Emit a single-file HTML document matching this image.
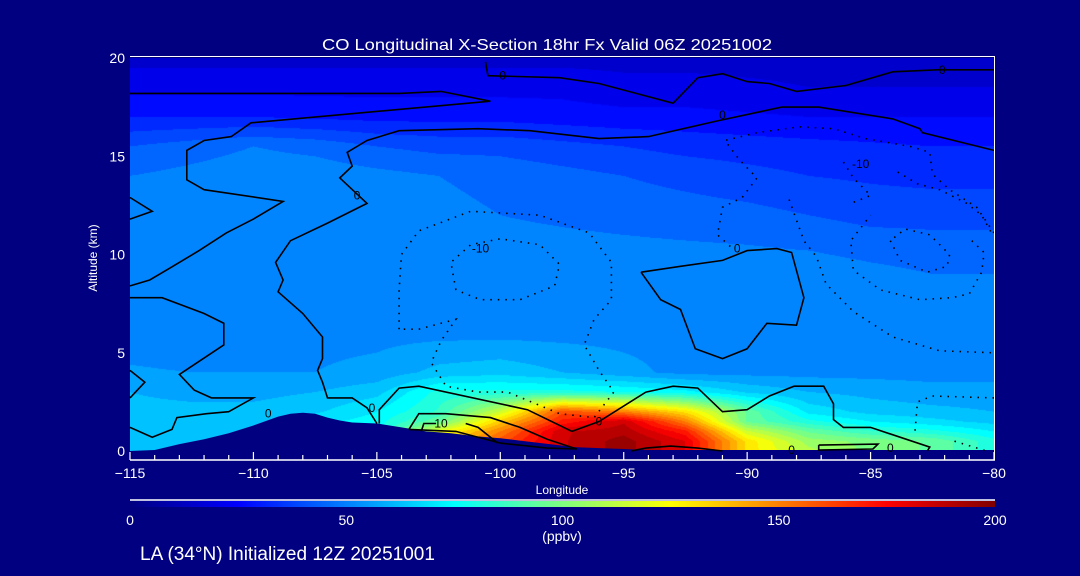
<!DOCTYPE html>
<html>
<head>
<meta charset="utf-8">
<style>
html,body{margin:0;padding:0;background:#000080;}
#wrap{position:relative;width:1080px;height:576px;overflow:hidden;background:#000080;font-family:"Liberation Sans",sans-serif;}
#field{position:absolute;left:130px;top:58px;}
#ov{position:absolute;left:0;top:0;}
text{font-family:"Liberation Sans",sans-serif;fill:#fff;}
</style>
</head>
<body>
<div id="wrap">
<canvas id="field" width="864" height="393"></canvas>
<svg id="ov" width="1080" height="576">
  <defs>
    <linearGradient id="jet" x1="0" x2="1" y1="0" y2="0">
      <stop offset="0" stop-color="#000080"/>
      <stop offset="0.125" stop-color="#0000ff"/>
      <stop offset="0.375" stop-color="#00ffff"/>
      <stop offset="0.625" stop-color="#ffff00"/>
      <stop offset="0.875" stop-color="#ff0000"/>
      <stop offset="1" stop-color="#800000"/>
    </linearGradient>
  </defs>
  <g id="terrain"></g>
  <g id="contours"></g>
  <g id="clabels"></g>
  <g id="axes"></g>
  <text x="322" y="50" font-size="16" textLength="450" lengthAdjust="spacingAndGlyphs">CO Longitudinal X-Section 18hr  Fx Valid 06Z 20251002</text>
  <text x="562" y="494" font-size="12" text-anchor="middle">Longitude</text>
  <text x="0" y="0" font-size="12" text-anchor="middle" transform="translate(97,258) rotate(-90)">Altitude (km)</text>
  <line x1="130" y1="500" x2="995" y2="500" stroke="#fff" stroke-width="1.5"/>
  <rect x="130" y="501" width="865" height="6" fill="url(#jet)"/>
  <g id="cbticks"></g>
  <text x="562" y="541" font-size="14" text-anchor="middle">(ppbv)</text>
  <text x="140" y="560" font-size="19">LA (34°N) Initialized 12Z 20251001</text>
</svg>
</div>
<script>
// ---- data ----
const lons = [-115,-112.5,-110,-107.5,-105,-102.5,-100,-97.5,-95,-92.5,-90,-87.5,-85,-82.5,-80];
const alts = [0,0.5,1,1.5,2,3,4,6,9,12,14,15.5,17,18.5,20];
const co0   = [60,62,65,70,75,130,160,185,195,180,130,110,100,95,80];
const co05  = [60,62,65,70,75,130,160,185,195,180,130,105,100,95,80];
const co1   = [62,62,65,70,75,120,150,185,190,170,115,95,85,80,72];
const co15  = [62,62,65,70,75,95,135,170,185,150,95,80,72,68,64];
const co2   = [62,62,62,65,72,85,115,160,150,130,95,70,64,62,60];
const co3   = [60,58,58,60,64,80,80,80,78,74,65,60,58,56,56];
const co4   = [55,54,54,54,56,62,64,60,56,52,52,52,52,52,52];
const co6   = [50,48,52,52,52,52,52,52,52,52,52,53,52,52,52];
const co9   = [50,52,52,52,52,52,52,52,52,52,52,52,50,48,48];
const co12  = [50,52,52,52,52,50,48,47,46,45,44,42,40,40,40];
const co14  = [48,50,52,52,50,48,46,44,42,40,38,36,35,34,34];
const co155 = [42,45,48,46,42,40,40,38,36,34,33,32,31,30,30];
const co17  = [30,30,30,29,28,28,28,27,26,26,25,24,24,24,24];
const co185 = [22,22,22,22,22,22,22,22,20,20,19,18,18,18,18];
const co20  = [16,16,16,16,16,16,16,16,16,16,16,16,16,16,16];
const coRows = [co0,co05,co1,co15,co2,co3,co4,co6,co9,co12,co14,co155,co17,co185,co20];

const terrLon = [-115,-114,-113,-112,-111,-110,-109,-108.5,-108,-107.5,-107,-106.5,-106,-105,-104,-103,-102,-101,-100,-99,-98,-97,-96,-95,-94,-92,-90,-85,-80];
const terrAlt = [0,0.05,0.35,0.6,0.9,1.3,1.75,1.9,1.95,1.9,1.7,1.55,1.45,1.4,1.2,1.0,0.9,0.75,0.65,0.5,0.35,0.2,0.15,0.1,0.05,0.05,0.05,0.05,0.05];

// contour lines: [lon, alt] pairs, solid or dotted
const cT1 = [[-100.6,19.8],[-100.5,19.1],[-97.6,19],[-96,18.7],[-93,17.7],[-92,19],[-91,19.2],[-90,18.8],[-89.1,18.7],[-88,18.3],[-86,18.6],[-84.1,19.3],[-82.3,19.4],[-80,19.4]];
const cA = [[-115,18.2],[-104.1,18.2],[-102.4,18.3],[-100.4,17.8],[-110.1,16.7],[-110.9,16],[-112,15.8],[-112.7,15.3],[-112.7,13.8],[-112,13.3],[-108.8,12.7],[-110,11.8],[-111.1,11.1],[-112.2,10.2],[-113.4,9.3],[-114.2,8.7],[-115,8.4]];
const cC = [[-80,15.3],[-82.9,16.2],[-83,16.4],[-84.1,16.9],[-87.1,17.5],[-88.6,17.5],[-91.2,16.8],[-94,16],[-96,15.9],[-98.8,16.3],[-100.9,16.4],[-104.1,16.3],[-105.4,15.8],[-106.2,15.2],[-106,14.5],[-106.5,13.9],[-105.4,12.6],[-107,11.6],[-108.5,10.7],[-109.1,9.6],[-108.8,8.7],[-109,8.1],[-108,7],[-107.2,5.8],[-107.2,4.7],[-107.4,4.1],[-107.2,3.5],[-107,2.7],[-106,2.7],[-105.4,2.2],[-105,1.4]];
const cB = [[-115,7.8],[-113.7,7.8],[-112,7],[-111.2,6.5],[-111.2,5.4],[-113,3.9],[-112.4,3.1],[-111.7,2.7],[-110,2.7],[-111,2],[-111.9,1.9],[-113.1,1.7],[-113.3,1.1],[-114.1,0.7],[-115,1.2]];
const cW1 = [[-115,4.1],[-114.4,3.5],[-115,2.7]];
const cW2 = [[-115,12.9],[-114.1,12.2],[-115,11.8]];
const cP = [[-104.9,1.4],[-104.9,2.1],[-104.1,3.2],[-103.3,3.3],[-98.9,2.1],[-97.1,1],[-96,1.5],[-94.1,3],[-93,3.3],[-92,3.2],[-91,2],[-90,2.1],[-89.1,2.8],[-88.1,3.3],[-86.9,3.3],[-86.5,2.4],[-86.5,1.6],[-86.1,1.2],[-85,1.2],[-82.6,0.2],[-82.7,0]];
const cP10 = [[-103.7,1.1],[-103.3,1.9],[-102.2,1.9],[-100.4,1.7],[-99.2,1.2],[-98.1,0.6],[-96.9,0.1],[-98.1,0.15],[-100,0.4],[-101.8,1],[-103.7,1.1]];
const cI10 = [[-103.2,1],[-103.1,1.4],[-102.6,1.4]];
const cI10b = [[-101.4,1.4],[-100.9,1.2],[-100.1,0.4]];
const cS1 = [[-94.7,0],[-94.1,0.15],[-93.1,0.25],[-92,0.15],[-91,0]];
const cS2 = [[-87.1,0.3],[-84.7,0.35],[-84.9,0.1],[-87.1,0.05],[-87.1,0.3]];
const cM = [[-94.3,9.1],[-92.7,9.4],[-91,9.7],[-90,10.2],[-88.8,10.3],[-88.2,10.1],[-87.7,7.8],[-88,6.4],[-89.2,6.5],[-90,5.2],[-91,4.7],[-92.1,5.2],[-92.7,7.2],[-93.5,7.7],[-94.3,9.1]];
const dD1 = [[-104.1,6.2],[-104.1,8.2],[-104,10],[-103.3,11.2],[-101.2,12.2],[-98.4,12],[-96.4,11.1],[-95.5,9.6],[-95.5,7.7],[-96.2,6.7],[-96.6,5.4],[-96,4.1],[-95.4,3],[-96.2,1.7],[-97.6,1.9],[-99.7,3],[-100.9,3],[-102.2,3.3],[-102.8,4.5],[-102.4,5.6],[-101.8,6.7],[-103.3,6.2],[-104.1,6.2]];
const dD2 = [[-101.8,8.2],[-102,9.6],[-101.2,10.5],[-100,10.8],[-98.4,10.5],[-97.6,9.5],[-97.8,8.4],[-99.2,7.7],[-100.8,7.7],[-101.8,8.2]];
const dD3 = [[-80,11.1],[-80.7,12.4],[-81.8,13.3],[-82.5,14.1],[-82.6,15.2],[-83.4,15.5],[-85.2,15.9],[-86.5,16.4],[-87.9,16.5],[-89.6,16.2],[-90.9,15.8],[-90.3,14.8],[-89.6,13.9],[-90.2,12.9],[-91,12.4],[-91.2,11],[-90.5,10.2]];
const dD4 = [[-88.3,12.8],[-87.7,10.7],[-87.2,9.9],[-86.8,8.5],[-85.7,7.1],[-84.1,5.8],[-82.2,5.1],[-80,5]];
const dD5 = [[-86.1,14.7],[-85.7,13.9],[-85,13],[-85.8,12.6]];
const dD6 = [[-83.9,14.2],[-83.1,13.6],[-82.2,13.3],[-81.1,12.6],[-80.5,12],[-80.1,11.1]];
const dD7 = [[-84.2,10.7],[-83.8,9.7],[-82.7,9.1],[-81.9,9.4],[-81.8,10],[-82.6,11],[-83.6,11.3],[-84.2,10.7]];
const dD8 = [[-80.9,10.7],[-80.4,10.1],[-80.5,9.1],[-81,8],[-81.7,7.8],[-83,7.7],[-84.6,8.2],[-85.7,9.2],[-85.8,10.7],[-85,12]];
const dD9 = [[-80,2.7],[-82.5,2.8],[-83.1,2.5],[-83.2,1]];
const dD10 = [[-81.6,0.5],[-80.3,0]];
const solidLines = [cT1,cA,cC,cB,cW1,cW2,cP,cP10,cI10,cI10b,cS1,cS2,cM];
const dottedLines = [dD1,dD2,dD3,dD4,dD5,dD6,dD7,dD8,dD9,dD10];

const labelText = ["0","0","0","0","-10","-10","0","10","0","0","0","0","0"];
const labelLon  = [-99.9,-91,-82.1,-105.8,-100.8,-85.4,-90.4,-102.4,-96,-88.2,-84.2,-105.2,-109.4];
const labelAlt  = [19.1,17.1,19.4,13,10.3,14.6,10.3,1.4,1.5,0.05,0.15,2.2,1.9];

const xTicks = [-115,-110,-105,-100,-95,-90,-85,-80];
const xTickLabels = ["\u2212115","\u2212110","\u2212105","\u2212100","\u221295","\u221290","\u221285","\u221280"];
const yTicks = [0,5,10,15,20];
const cbTicks = [0,50,100,150,200];

// ---- scales ----
const X0=130, X1=994, Y0=451, Y1=58;
function xs(lon){return X0+(lon+115)/35*(X1-X0);}
function ys(a){return Y0-a/20*(Y0-Y1);}
function cbx(v){return 130+v/200*865;}
const NS="http://www.w3.org/2000/svg";
function mk(tag,attrs,parent){const e=document.createElementNS(NS,tag);for(const k in attrs)e.setAttribute(k,attrs[k]);parent.appendChild(e);return e;}

function jet(t){
  t=Math.max(0,Math.min(1,t));
  function seg(x){return Math.max(0,Math.min(1,x));}
  const r=seg(Math.min(4*t-1.5,-4*t+4.5));
  const g=seg(Math.min(4*t-0.5,-4*t+3.5));
  const b=seg(Math.min(4*t+0.5,-4*t+2.5));
  return [r*255,g*255,b*255];
}
function findIdx(arr,v){for(let i=0;i<arr.length-1;i++){if(v<=arr[i+1])return i;}return arr.length-2;}
function val(lon,a){
  const i=findIdx(lons,lon), j=findIdx(alts,a);
  const tx=Math.max(0,Math.min(1,(lon-lons[i])/(lons[i+1]-lons[i])));
  const ty=Math.max(0,Math.min(1,(a-alts[j])/(alts[j+1]-alts[j])));
  const v00=coRows[j][i],v10=coRows[j][i+1],v01=coRows[j+1][i],v11=coRows[j+1][i+1];
  return (v00*(1-tx)+v10*tx)*(1-ty)+(v01*(1-tx)+v11*tx)*ty;
}
// ---- heatmap ----
(function(){
  const cv=document.getElementById('field');const ctx=cv.getContext('2d');
  const W=cv.width,H=cv.height;const img=ctx.createImageData(W,H);
  for(let py=0;py<H;py++){
    const a=(Y0-(Y1+py+0.5))/(Y0-Y1)*20;
    for(let px=0;px<W;px++){
      const lon=-115+(px+0.5)/W*35;
      let v=val(lon,Math.max(0,a));
      v=Math.floor(v/6)*6+3;
      const c=jet(v/200);const k=(py*W+px)*4;
      img.data[k]=c[0];img.data[k+1]=c[1];img.data[k+2]=c[2];img.data[k+3]=255;
    }
  }
  ctx.putImageData(img,0,0);
})();
// ---- terrain ----
(function(){
  const g=document.getElementById('terrain');
  let d="M"+xs(terrLon[0])+","+(Y0+2);
  for(let i=0;i<terrLon.length;i++)d+=" L"+xs(terrLon[i]).toFixed(1)+","+ys(terrAlt[i]).toFixed(1);
  d+=" L"+xs(terrLon[terrLon.length-1])+","+(Y0+2)+" Z";
  const p=mk('path',{d:d,fill:'#000080'},g);
  
  
})();
// ---- contours ----
(function(){
  const g=document.getElementById('contours');
  function pts(line){return line.map(p=>xs(p[0]).toFixed(1)+","+ys(p[1]).toFixed(1)).join(" ");}
  solidLines.forEach(function(l){
    const e=mk('polyline',{points:pts(l),fill:'none',stroke:'#000',"stroke-width":1.6},g);
    
    
  });
  dottedLines.forEach(function(l){
    const e=mk('polyline',{points:pts(l),fill:'none',stroke:'#000',"stroke-width":1.6,"stroke-dasharray":"1.5 6"},g);
    
    
  });
  const lg=document.getElementById('clabels');
  for(let i=0;i<labelText.length;i++){
    const t=mk('text',{x:xs(labelLon[i]),y:ys(labelAlt[i])+4,"font-size":12,"text-anchor":"middle",style:"fill:#000"},lg);
    t.textContent=labelText[i];
    
    
  }
})();
// ---- axes ----
(function(){
  const g=document.getElementById('axes');
  const ax=mk('line',{x1:X0,y1:460,x2:X1+1,y2:460,stroke:'#fff',"stroke-width":1.5},g);
  
  
  const tb=mk('line',{x1:X0,y1:56.5,x2:X1+1,y2:56.5,stroke:'#fff',"stroke-width":1},g);
  
  
  const rb=mk('line',{x1:X1+0.5,y1:56.5,x2:X1+0.5,y2:460,stroke:'#fff',"stroke-width":1},g);
  
  
  for(let l=-115;l<=-80;l++){
    const major=(l%5===0);
    const t=mk('line',{x1:xs(l),y1:460,x2:xs(l),y2:major?452:455,stroke:'#fff',"stroke-width":1.2},g);
    
    
  }
  xTicks.forEach(function(v,i){
    const t=mk('text',{x:xs(v),y:478,"font-size":14,"text-anchor":"middle"},g);
    t.textContent=xTickLabels[i];
    
    
  });
  yTicks.forEach(function(v){
    const t=mk('text',{x:125,y:ys(v)+5,"font-size":14,"text-anchor":"end"},g);
    t.textContent=String(v);
    
    
  });
  const cg=document.getElementById('cbticks');
  cbTicks.forEach(function(v){
    const t=mk('text',{x:cbx(v),y:525,"font-size":14,"text-anchor":"middle"},cg);
    t.textContent=String(v);
    
    
  });
})();
</script>
</body>
</html>
